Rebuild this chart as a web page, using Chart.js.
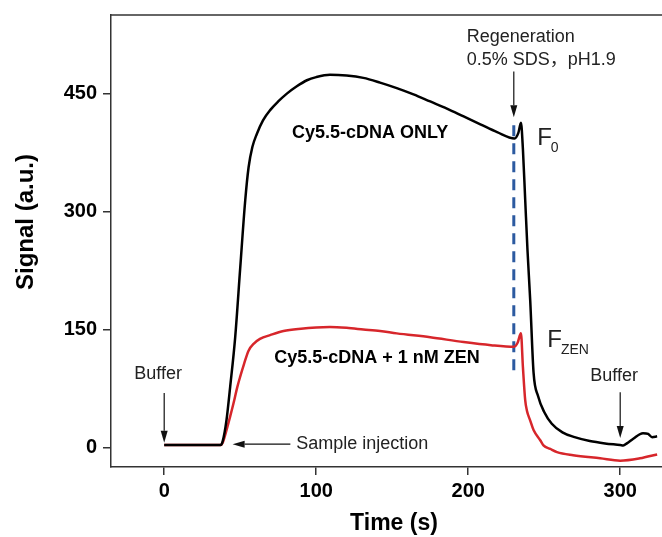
<!DOCTYPE html>
<html>
<head>
<meta charset="utf-8">
<script src="https://cdn.jsdelivr.net/npm/chart.js@4/dist/chart.umd.min.js"></script>
<style>
  html, body { margin: 0; padding: 0; background: #fff; }
  #wrap { width: 662px; height: 537px; position: relative; }
</style>
</head>
<body>
<div id="wrap"><canvas id="sensorChart"></canvas></div>
<script>
// Cy5.5-cDNA only (black trace)
const timeBlack   = [0, 37, 38.5, 41, 43.4, 46.7, 50, 53.3, 55.5, 58, 61, 65, 69.7, 75, 80.7, 87, 93.9, 100, 109, 120, 131, 142, 153, 164, 175, 186, 197, 208, 219, 230.5, 233, 234.7, 236, 237.5, 239, 240.8, 243, 246, 250, 255, 262, 270, 280, 290, 300, 302, 304.4, 308.6, 315, 318.4, 321, 324.3];
const signalBlack = [3, 3, 8, 35, 77, 140, 228, 314, 356, 382, 399, 416, 429, 440, 450, 459, 467, 471, 474, 473, 470, 464, 457, 449, 440, 431, 421, 411, 401, 393, 400, 413, 379, 315, 251, 187, 95, 65, 45, 30, 19, 13, 8, 5, 3, 2.5, 5, 11, 18, 17, 13, 14];

// Cy5.5-cDNA + 1 nM ZEN (red trace)
const timeRed   = [0, 37, 38.5, 41, 43.5, 45.6, 48, 50, 52.5, 55.5, 59, 63, 70, 78.5, 90, 100, 109, 120, 131, 142, 153, 175, 197, 215, 230.3, 232.5, 234.7, 236, 237.5, 238.6, 240.8, 243, 247.4, 249.5, 254, 258.4, 269, 286.8, 300, 313, 324.3];
const signalRed = [3, 3, 6, 22, 40, 56, 76, 90, 106, 123, 132, 138, 143, 148, 151, 152.5, 153, 152, 150, 148, 145, 140, 134, 130, 128, 133, 145, 102, 60, 47, 34, 22, 9, 2.5, -2, -6, -10, -14, -17, -14, -9];

// regeneration marker
const regenTime   = [230, 230];
const regenSignal = [98, 414];

const xTicks = [0, 100, 200, 300];
const yTicks = [0, 150, 300, 450];

const toPoints = (xs, ys) => xs.map((t, i) => ({ x: t, y: ys[i] }));

// labels, arrows (in data units)
const notes = [
  { text: 'Regeneration',          x: 199,   y: 522, bold: false },
  { text: '0.5% SDS，pH1.9',        x: 199,   y: 493, bold: false },
  { text: 'Cy5.5-cDNA ONLY',       x: 84,    y: 400, bold: true },
  { text: 'Cy5.5-cDNA + 1 nM ZEN', x: 72.4,  y: 114, bold: true },
  { text: 'Buffer',                x: -19.7, y: 93,  bold: false },
  { text: 'Sample injection',      x: 86.8,  y: 4,   bold: false },
  { text: 'Buffer',                x: 280.3, y: 91,  bold: false }
];
const arrows = [
  { from: [230, 478], to: [230, 420] },
  { from: [0, 69],    to: [0, 6] },
  { from: [83, 4],    to: [45, 4] },
  { from: [300, 70],  to: [300, 12] }
];
const subLabels = [
  { main: 'F', sub: '0',   x: 245.4, y: 385 },
  { main: 'F', sub: 'ZEN', x: 252,   y: 128 }
];

const FONT = '"Liberation Sans", Arial, "Noto Sans CJK SC", sans-serif';

function drawArrow(ctx, x1, y1, x2, y2) {
  const ang = Math.atan2(y2 - y1, x2 - x1);
  const head = 12, half = 3.5;
  ctx.beginPath();
  ctx.moveTo(x1, y1);
  ctx.lineTo(x2 - Math.cos(ang) * head, y2 - Math.sin(ang) * head);
  ctx.stroke();
  ctx.beginPath();
  ctx.moveTo(x2, y2);
  ctx.lineTo(x2 - Math.cos(ang) * head - Math.sin(ang) * half, y2 - Math.sin(ang) * head + Math.cos(ang) * half);
  ctx.lineTo(x2 - Math.cos(ang) * head + Math.sin(ang) * half, y2 - Math.sin(ang) * head - Math.cos(ang) * half);
  ctx.closePath();
  ctx.fill();
}

const annotate = {
  id: 'annotate',
  afterDraw(chart) {
    const { ctx, chartArea, scales: { x, y } } = chart;
    ctx.save();

    // top frame line
    ctx.strokeStyle = '#333';
    ctx.lineWidth = 1.5;
    ctx.beginPath();
    ctx.moveTo(chartArea.left, chartArea.top);
    ctx.lineTo(chartArea.right, chartArea.top);
    ctx.stroke();

    ctx.fillStyle = '#111';
    ctx.strokeStyle = '#111';
    ctx.lineWidth = 1.2;
    arrows.forEach(a => drawArrow(ctx,
      x.getPixelForValue(a.from[0]), y.getPixelForValue(a.from[1]),
      x.getPixelForValue(a.to[0]),   y.getPixelForValue(a.to[1])));

    ctx.textAlign = 'left';
    ctx.textBaseline = 'middle';
    notes.forEach(n => {
      ctx.font = (n.bold ? 'bold ' : '') + '18px ' + FONT;
      ctx.fillStyle = n.bold ? '#000' : '#222';
      ctx.fillText(n.text, x.getPixelForValue(n.x), y.getPixelForValue(n.y));
    });

    ctx.textBaseline = 'alphabetic';
    ctx.fillStyle = '#222';
    subLabels.forEach(s => {
      const px = x.getPixelForValue(s.x), py = y.getPixelForValue(s.y);
      ctx.font = '24px ' + FONT;
      ctx.fillText(s.main, px, py);
      const w = ctx.measureText(s.main).width;
      ctx.font = '14px ' + FONT;
      ctx.fillText(s.sub, px + w - 1, py + 7);
    });

    // axis titles
    ctx.textAlign = 'center';
    ctx.textBaseline = 'middle';
    ctx.fillStyle = '#000';
    ctx.font = 'bold 23px ' + FONT;
    ctx.fillText('Time (s)', 394, 524);
    ctx.translate(26, 222);
    ctx.rotate(-Math.PI / 2);
    ctx.font = 'bold 24px ' + FONT;
    ctx.fillText('Signal (a.u.)', 0, 0);
    ctx.restore();
  }
};

new Chart(document.getElementById('sensorChart'), {
  type: 'line',
  data: {
    datasets: [
      { label: 'Cy5.5-cDNA ONLY', data: toPoints(timeBlack, signalBlack),
        borderColor: '#000', borderWidth: 2.5, pointRadius: 0, cubicInterpolationMode: 'monotone' },
      { label: 'Cy5.5-cDNA + 1 nM ZEN', data: toPoints(timeRed, signalRed),
        borderColor: '#d7262b', borderWidth: 2.5, pointRadius: 0, cubicInterpolationMode: 'monotone' },
      { label: 'Regeneration', data: toPoints(regenTime, regenSignal),
        borderColor: '#2c5aa0', borderWidth: 3, borderDash: [11, 7], pointRadius: 0 }
    ]
  },
  options: {
    responsive: true, maintainAspectRatio: false, animation: false,
    layout: { padding: { top: 15, right: 0, left: 0, bottom: 0 } },
    plugins: { legend: { display: false }, tooltip: { enabled: false } },
    scales: {
      x: {
        type: 'linear', min: -35, max: 327.5,
        afterBuildTicks: s => { s.ticks = xTicks.map(v => ({ value: v })); },
        afterFit: s => { s.height = 70; s.paddingLeft = 0; s.paddingRight = 0; },
        grid: { drawOnChartArea: false, tickLength: 8, color: '#333', lineWidth: 1.5 },
        border: { color: '#333', width: 1.5 },
        ticks: { color: '#000', padding: 4, font: { family: FONT, size: 20, weight: 'bold' } }
      },
      y: {
        min: -25, max: 550,
        afterBuildTicks: s => { s.ticks = yTicks.map(v => ({ value: v })); },
        afterFit: s => { s.width = 111; s.paddingTop = 0; s.paddingBottom = 0; },
        grid: { drawOnChartArea: false, tickLength: 8, color: '#333', lineWidth: 1.5 },
        border: { color: '#333', width: 1.5 },
        ticks: { color: '#000', padding: 6, font: { family: FONT, size: 20, weight: 'bold' } }
      }
    }
  },
  plugins: [annotate]
});
</script>
</body>
</html>
